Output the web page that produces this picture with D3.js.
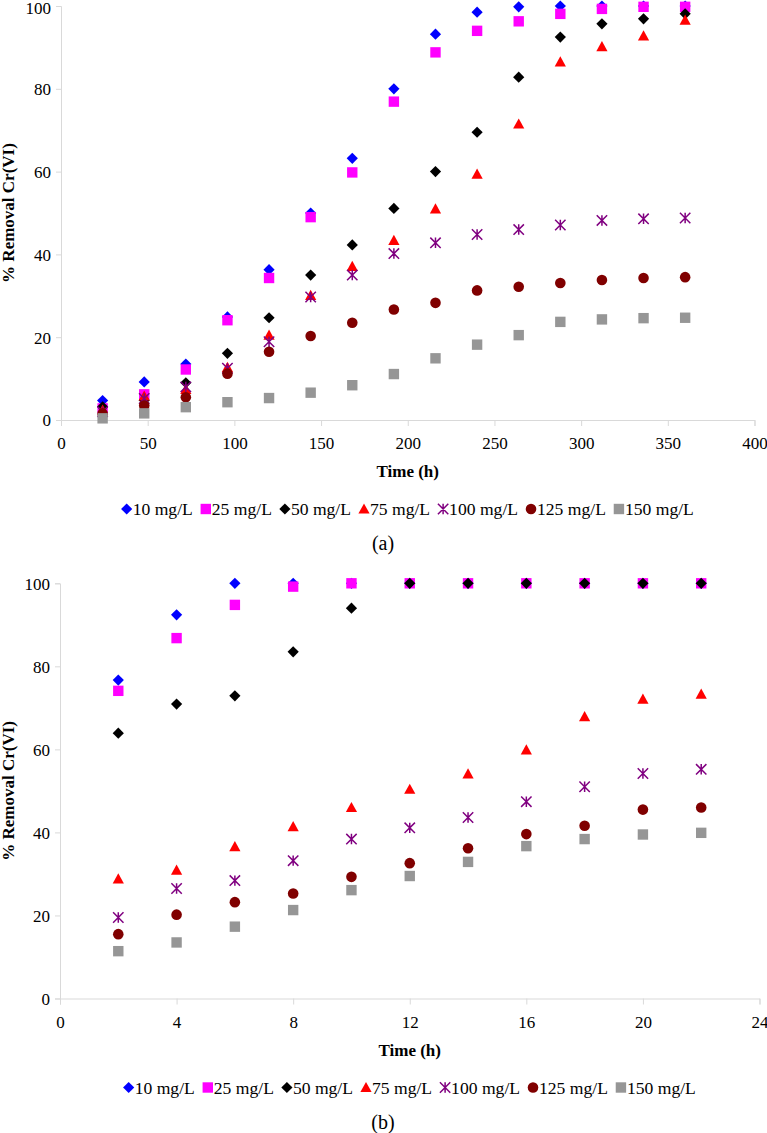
<!DOCTYPE html>
<html><head><meta charset="utf-8">
<script src="https://cdn.jsdelivr.net/npm/d3@7"></script>
<style>
body{margin:0;background:#fff}
svg{display:block}
text{font-family:"Liberation Serif","Times New Roman",serif;fill:#000}
</style>
</head><body>
<svg id="c" width="767" height="1133"></svg>
<script>
// ---------- data ----------
const seriesNames = ["10 mg/L","25 mg/L","50 mg/L","75 mg/L","100 mg/L","125 mg/L","150 mg/L"];
const seriesColors = ["#0000FF","#FF00FF","#000000","#FF0000","#800080","#800000","#969696"];
const seriesShapes = ["diamond","square","diamond","triangle","asterisk","circle","square"];

const timeA = [24,48,72,96,120,144,168,192,216,240,264,288,312,336,360];
const a10  = [4.7,9.2,13.5,24.9,36.3,50.0,63.2,80.0,93.2,98.5,99.8,100,100,100,100];
const a25  = [2.8,6.2,12.2,24.1,34.3,49.0,59.8,76.9,88.8,94.0,96.3,98.1,99.3,99.8,99.8];
const a50  = [3.2,4.8,9.0,16.1,24.7,35.0,42.3,51.1,60.0,69.5,82.8,92.5,95.7,96.9,98.1];
const a75  = [2.4,5.8,7.4,12.7,20.5,30.1,37.1,43.4,51.0,59.4,71.5,86.5,90.2,92.8,96.6];
const a100 = [2.0,5.2,8.0,12.5,18.9,29.7,35.0,40.2,42.8,44.8,46.0,47.1,48.2,48.6,48.8];
const a125 = [1.6,3.5,5.5,11.2,16.5,20.3,23.5,26.7,28.3,31.3,32.2,33.1,33.8,34.3,34.5];
const a150 = [0.4,1.6,3.1,4.3,5.3,6.6,8.4,11.1,14.9,18.2,20.5,23.7,24.3,24.6,24.7];

const timeB = [2,4,6,8,10,12,14,16,18,20,22];
const b10  = [76.7,92.4,100,100,100,100,100,100,100,100,100];
const b25  = [74.1,86.8,94.8,99.2,100,100,100,100,100,100,100];
const b50  = [63.9,70.9,72.9,83.5,94.0,100,100,100,100,100,100];
const b75  = [28.8,30.9,36.6,41.4,46.0,50.4,54.1,59.9,67.9,72.1,73.3];
const b100 = [19.5,26.5,28.4,33.2,38.4,41.1,43.6,47.4,51.0,54.2,55.2];
const b125 = [15.5,20.2,23.2,25.3,29.3,32.6,36.2,39.6,41.6,45.5,46.0];
const b150 = [11.4,13.5,17.3,21.3,26.1,29.5,32.9,36.7,38.4,39.5,39.9];

const xTicksA = [0,50,100,150,200,250,300,350,400];
const xTicksB = [0,4,8,12,16,20,24];
const yTicks = [0,20,40,60,80,100];
const yLabel = "% Removal Cr(VI)";
const xLabel = "Time (h)";
const panelLabels = ["(a)","(b)"];

// ---------- drawing ----------
const svg = d3.select("#c");
const AXIS = "#d9d9d9";
const FONT = '"Liberation Serif","Times New Roman",serif';

function markerPath(shape){
  const p = d3.path();
  if(shape==="diamond"){ const s=5.6; p.moveTo(0,-s);p.lineTo(s,0);p.lineTo(0,s);p.lineTo(-s,0);p.closePath(); }
  else if(shape==="square"){ const s=5.2; p.rect(-s,-s,2*s,2*s); }
  else if(shape==="triangle"){ p.moveTo(0,-5.6);p.lineTo(5.6,4.6);p.lineTo(-5.6,4.6);p.closePath(); }
  else if(shape==="circle"){ p.arc(0,0,5.3,0,2*Math.PI); }
  else if(shape==="asterisk"){ const s=5.2; p.moveTo(0,-s);p.lineTo(0,s);p.moveTo(-s,-s);p.lineTo(s,s);p.moveTo(-s,s);p.lineTo(s,-s); }
  return p.toString();
}
function drawMarker(g, shape, color){
  const m = g.append("path").attr("d", markerPath(shape));
  if(shape==="asterisk") m.attr("fill","none").attr("stroke",color).attr("stroke-width",1.5);
  else m.attr("fill",color);
  return m;
}

function panel(cfg){
  const g = svg.append("g");
  const x = d3.scaleLinear().domain(cfg.xDomain).range([cfg.left, cfg.right]);
  const y = d3.scaleLinear().domain([0,100]).range([cfg.bottom, cfg.top]);

  // axes
  const ax = g.append("g").attr("transform",`translate(0,${cfg.bottom})`)
    .call(d3.axisBottom(x).tickValues(cfg.xTicks).tickSize(6).tickPadding(14).tickFormat(d3.format("d")));
  const ay = g.append("g").attr("transform",`translate(${cfg.left},0)`)
    .call(d3.axisLeft(y).tickValues(yTicks).tickSize(5).tickPadding(5).tickFormat(d3.format("d")));
  [ax,ay].forEach(a=>{
    a.attr("font-family",FONT);
    a.select(".domain").attr("stroke",AXIS).attr("stroke-width",1);
    a.selectAll(".tick line").attr("stroke",AXIS);
    a.selectAll(".tick text").attr("font-size",17).attr("fill","#000");
  });
  ax.selectAll(".tick text").attr("dy","0.55em");
  ay.selectAll(".tick text").attr("dy","0.35em");
  // keep the topmost label inside the picture
  ay.selectAll(".tick text").filter(d=>d===100 && cfg.top<10).attr("dy","0.45em");

  // series
  cfg.series.forEach((vals,i)=>{
    const sg = g.append("g");
    vals.forEach((v,j)=>{
      const mg = sg.append("g").attr("transform",`translate(${x(cfg.times[j])},${y(v)})`);
      drawMarker(mg, seriesShapes[i], seriesColors[i]);
    });
  });

  // titles
  g.append("text").attr("x",(cfg.left+cfg.right)/2).attr("y",cfg.bottom+57)
    .attr("text-anchor","middle").attr("font-weight","bold").attr("font-size",17).text(xLabel);
  g.append("text").attr("transform",`translate(14,${(cfg.top+cfg.bottom)/2}) rotate(-90)`)
    .attr("text-anchor","middle").attr("font-weight","bold").attr("font-size",17).text(yLabel);

  // legend
  const lg = g.append("g");
  let cx = 0;
  seriesNames.forEach((n,i)=>{
    const it = lg.append("g").attr("transform",`translate(${cx},0)`);
    const mg = it.append("g").attr("transform","translate(5,-6)");
    drawMarker(mg, seriesShapes[i], seriesColors[i]);
    const t = it.append("text").attr("x",11).attr("y",0).attr("font-size",17.6).text(n);
    cx += 11 + t.node().getComputedTextLength() + 8;
  });
  cx -= 8;
  lg.attr("transform",`translate(${(cfg.left+cfg.right)/2 - cx/2},${cfg.bottom+95})`);

  g.append("text").attr("x",383).attr("y",cfg.bottom+130).attr("text-anchor","middle")
    .attr("font-size",20).text(cfg.label);
}

panel({xDomain:[0,400], left:61, right:754.5, top:6, bottom:420, xTicks:xTicksA,
  times:timeA, series:[a10,a25,a50,a75,a100,a125,a150], label:panelLabels[0]});
panel({xDomain:[0,24], left:60, right:759.5, top:583.3, bottom:998.5, xTicks:xTicksB,
  times:timeB, series:[b10,b25,b50,b75,b100,b125,b150], label:panelLabels[1]});
</script>
</body></html>
